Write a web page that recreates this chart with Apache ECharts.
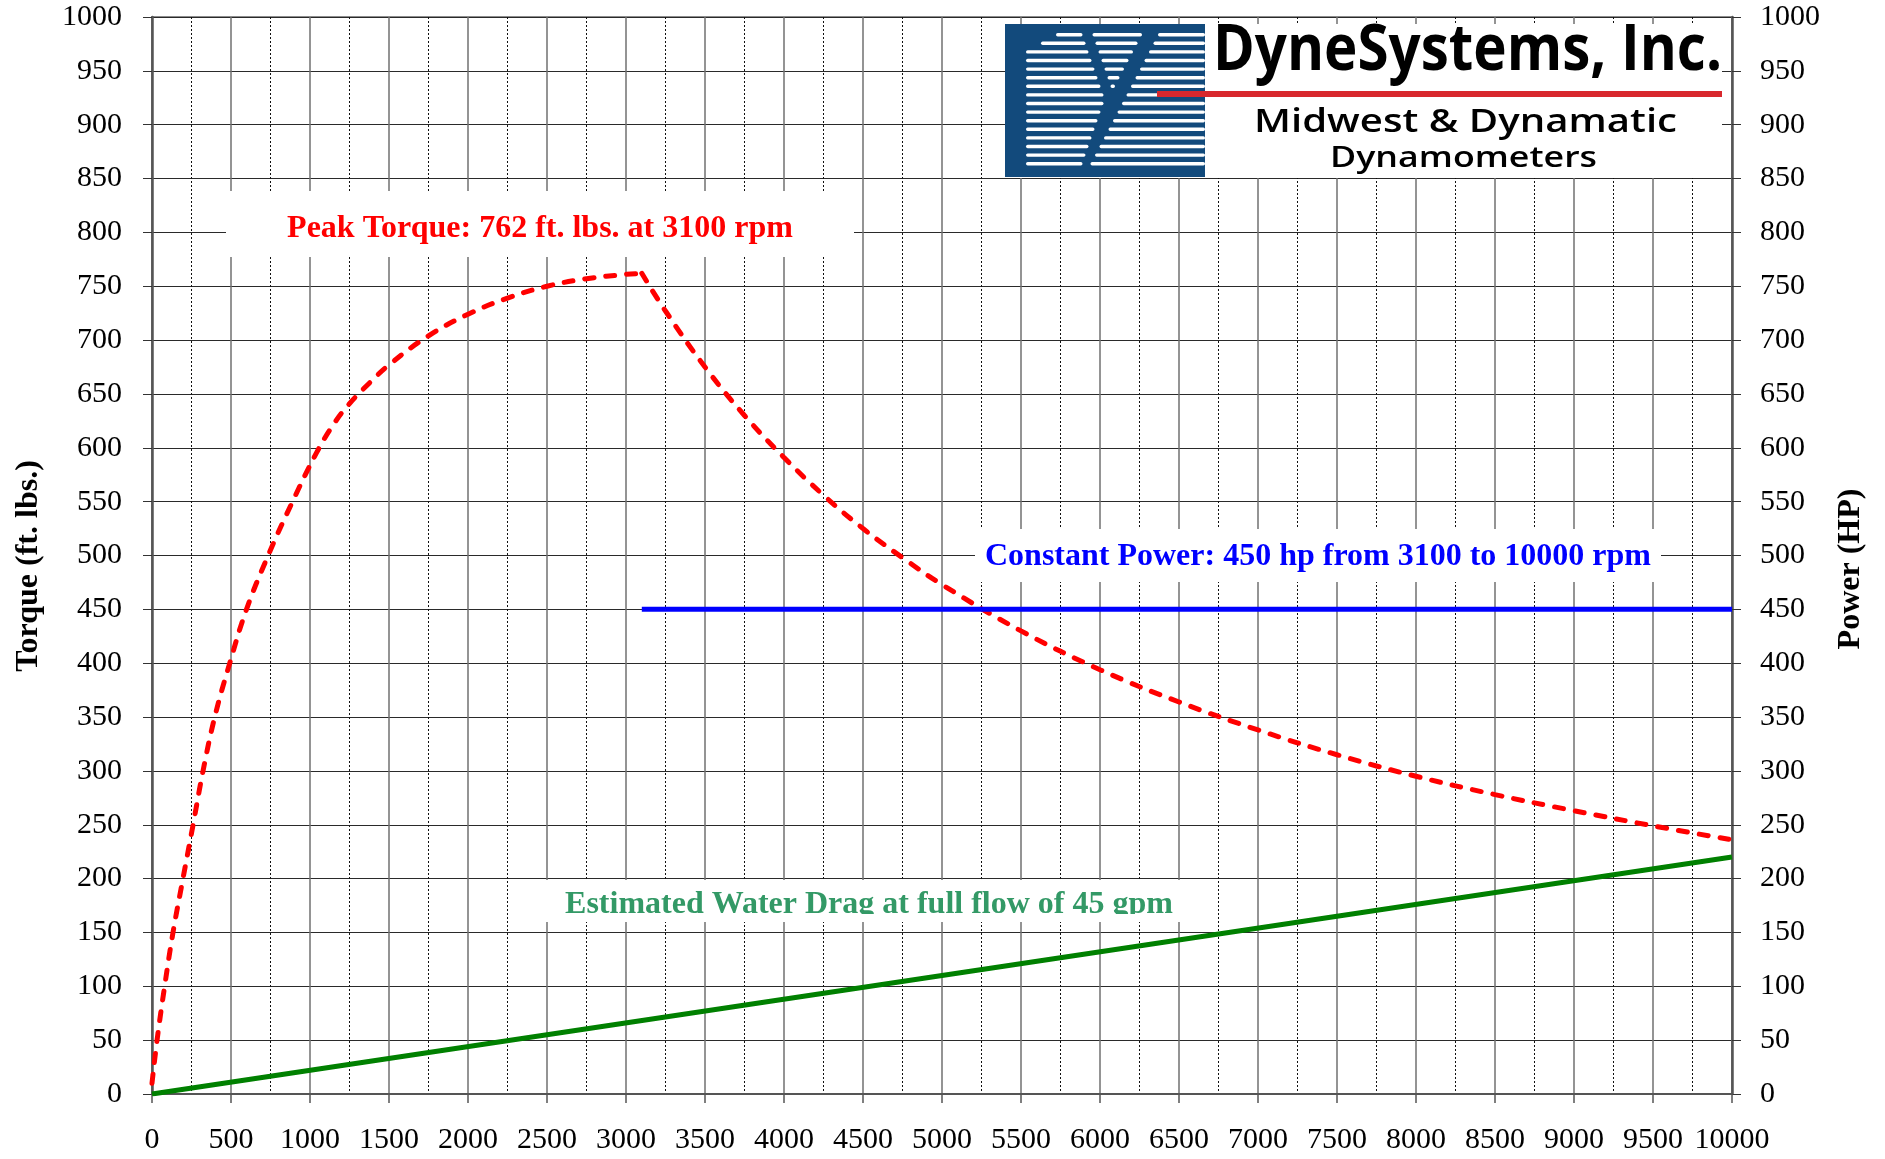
<!DOCTYPE html>
<html><head><meta charset="utf-8">
<script src="https://cdn.jsdelivr.net/npm/echarts@6/dist/echarts.min.js"></script>
<style>html,body{margin:0;padding:0;background:#fff}#c{width:1885px;height:1159px}</style>
</head><body><div id="c"></div>
<script>
// ---- data ----
const torqueRpm   = [0, 32, 80, 133, 196, 260, 323, 397, 492, 598, 735, 883, 1040, 1150, 1250, 1375, 1500, 1750, 2000, 2250, 2500, 2750, 3000, 3100,
                     3250, 3500, 3750, 4000, 4250, 4500, 4750, 5000, 5500, 6000, 6500, 7000, 7500, 8000, 8500, 9000, 9500, 10000];
const torqueFtLbs = [10, 50, 100, 150, 200, 250, 300, 350, 400, 450, 500, 548, 595, 622, 641, 660, 677, 704, 724, 739, 750, 757, 761, 762,
                     727, 675, 630, 591, 556, 525, 498, 473, 430, 394, 364, 338, 315, 295, 278, 263, 249, 236];
const peakRpm = 3100;
const powerRpm = [3100, 10000];
const powerHp  = [450, 450];
const dragRpm  = [0, 5000, 10000];
const dragVal  = [0, 110, 220];
const xMin = 0, xMax = 10000, xStep = 500;
const yMin = 0, yMax = 1000, yStep = 50;
const leftAxisName = 'Torque (ft. lbs.)';
const rightAxisName = 'Power (HP)';
const peakText = 'Peak Torque: 762 ft. lbs. at 3100 rpm';
const powerText = 'Constant Power: 450 hp from 3100 to 10000 rpm';
const dragText = 'Estimated Water Drag at full flow of 45 gpm';
const logoTitle = 'DyneSystems, Inc.';
const logoLine1 = 'Midwest & Dynamatic';
const logoLine2 = 'Dynamometers';

// ---- build ----
const SERIF = "'Liberation Serif', 'Times New Roman', Times, serif";
const SANS = "'Open Sans', 'Noto Sans', sans-serif";
const pairs = (xs, ys) => xs.map((x, i) => [x, ys[i]]);
const torqueAll = pairs(torqueRpm, torqueFtLbs);
const pk = torqueRpm.indexOf(peakRpm);
const torqueUp = torqueAll.slice(0, pk + 1);
const torqueDown = torqueAll.slice(pk);

const chart = echarts.init(document.getElementById('c'), null, {renderer: 'canvas'});
const mctx = document.createElement('canvas').getContext('2d');
function fitX(text, weight, size, fam, w) {
  mctx.font = weight + ' ' + size + 'px ' + fam;
  return w / mctx.measureText(text).width;
}

const g = [];
function annot(x0, y0, x1, y1, text, cx, cy, color) {
  g.push({type: 'rect', z: 1, silent: true, shape: {x: x0, y: y0, width: x1 - x0, height: y1 - y0}, style: {fill: '#fff'}});
  g.push({type: 'text', z: 3, silent: true, x: cx, y: cy,
    style: {text: text, fill: color, fontSize: 32, fontWeight: 'bold', fontFamily: SERIF,
      align: 'center', verticalAlign: 'middle', textAlign: 'center', textVerticalAlign: 'middle'}});
}
annot(226, 191, 854, 257, peakText, 540, 229, '#ff0000');
annot(975, 529, 1661, 582, powerText, 1318, 557, '#0000ff');
annot(530, 880, 1190, 922, dragText, 869, 905, '#339966');
// clip bottom of drag text (as in reference text box)
g.push({type: 'rect', z: 4, silent: true, shape: {x: 530, y: 914, width: 660, height: 8}, style: {fill: '#fff'}});

// axis names
g.push({type: 'text', z: 3, x: 29, y: 566, rotation: Math.PI / 2,
  style: {text: leftAxisName, fill: '#000', fontSize: 32, fontWeight: 'bold', fontFamily: SERIF,
    align: 'center', verticalAlign: 'middle', textAlign: 'center', textVerticalAlign: 'middle'}});
g.push({type: 'text', z: 3, x: 1851, y: 569, rotation: Math.PI / 2,
  style: {text: rightAxisName, fill: '#000', fontSize: 32, fontWeight: 'bold', fontFamily: SERIF,
    align: 'center', verticalAlign: 'middle', textAlign: 'center', textVerticalAlign: 'middle'}});

// logo
g.push({type: 'rect', z: 5, silent: true, shape: {x: 1005, y: 24, width: 717, height: 154}, style: {fill: '#fff'}});
g.push({type: 'rect', z: 5, silent: true, shape: {x: 1005, y: 24, width: 200, height: 153}, style: {fill: '#124a7c'}});
for (let i = 0; i < 16; i++) {
  const y = 33 + i * 8.6;
  const startX = 1026 + (i < 2 ? 30 - i * 15 : 0);
  const sC = 1150 - i * 4.5;          // slanted "S" stroke gap
  const dC = 1110 - Math.abs(i - 7.5) * 3; // "D" bowl gap
  const segs = [[startX, dC - 5], [dC + 5, sC - 8], [sC + 8, 1205]];
  segs.forEach(s => {
    if (s[1] > s[0]) g.push({type: 'rect', z: 6, silent: true,
      shape: {x: s[0], y: y, width: s[1] - s[0], height: 3.4, r: 1.7}, style: {fill: '#fff'}});
  });
}
g.push({type: 'rect', z: 6, silent: true, shape: {x: 1157, y: 91, width: 565, height: 6}, style: {fill: '#d8282d'}});
const logoTexts = [
  [logoTitle, 'bold', 64, 1213, 52, 509],
  [logoLine1, '600', 32, 1254, 123, 423],
  [logoLine2, '600', 28, 1330, 159, 267]
];
logoTexts.forEach(t => {
  g.push({type: 'text', z: 7, silent: true, x: t[3], y: t[4], scaleX: fitX(t[0], t[1], t[2], SANS, t[5]), originX: 0, originY: 0,
    style: {text: t[0], fill: '#000', fontSize: t[2], fontWeight: t[1], fontFamily: SANS,
      align: 'left', verticalAlign: 'middle', textAlign: 'left', textVerticalAlign: 'middle'}});
});

const axisLbl = {color: '#000', fontSize: 30, fontFamily: SERIF, formatter: v => String(v)};
const option = {
  animation: false,
  backgroundColor: '#fff',
  grid: {left: 152, right: 153, top: 17, bottom: 65, show: true, borderColor: '#8c8c8c', borderWidth: 2,
    containLabel: false, outerBoundsMode: 'none'},
  xAxis: {type: 'value', min: xMin, max: xMax, interval: xStep,
    axisLine: {show: true, onZero: false, lineStyle: {color: '#555', width: 2}},
    axisTick: {show: true, inside: false, length: 9, lineStyle: {color: '#555', width: 1.5}},
    axisLabel: Object.assign({margin: 31}, axisLbl),
    splitLine: {show: true, lineStyle: {color: '#707070', width: 1.5}},
    minorTick: {show: false, splitNumber: 2},
    minorSplitLine: {show: true, lineStyle: {color: '#111', width: 1, type: [2, 2]}}
  },
  yAxis: [
    {type: 'value', position: 'left', min: yMin, max: yMax, interval: yStep,
      axisLine: {show: true, lineStyle: {color: '#555', width: 2.5}},
      axisTick: {show: true, inside: false, length: 9, lineStyle: {color: '#333', width: 1}},
      axisLabel: Object.assign({margin: 30}, axisLbl),
      splitLine: {show: true, lineStyle: {color: '#2a2a2a', width: 1}}
    },
    {type: 'value', position: 'right', min: yMin, max: yMax, interval: yStep,
      axisLine: {show: true, lineStyle: {color: '#555', width: 2.5}},
      axisTick: {show: true, inside: false, length: 9, lineStyle: {color: '#333', width: 1}},
      axisLabel: Object.assign({margin: 28}, axisLbl),
      splitLine: {show: false}
    }
  ],
  series: [
    {type: 'line', name: 'Torque', data: torqueUp, showSymbol: false, smooth: 0.4, z: 3,
      lineStyle: {color: '#ff0000', width: 5, type: [9, 12], cap: 'round'}},
    {type: 'line', name: 'Torque2', data: torqueDown, showSymbol: false, smooth: 0.4, z: 3,
      lineStyle: {color: '#ff0000', width: 5, type: [9, 12], cap: 'round'}},
    {type: 'line', name: 'Power', yAxisIndex: 1, data: pairs(powerRpm, powerHp), showSymbol: false, z: 3,
      lineStyle: {color: '#0000ff', width: 5}},
    {type: 'line', name: 'Drag', data: pairs(dragRpm, dragVal), showSymbol: false, z: 3,
      lineStyle: {color: '#008000', width: 5}}
  ],
  graphic: {elements: g}
};
chart.setOption(option);
</script>
</body></html>
